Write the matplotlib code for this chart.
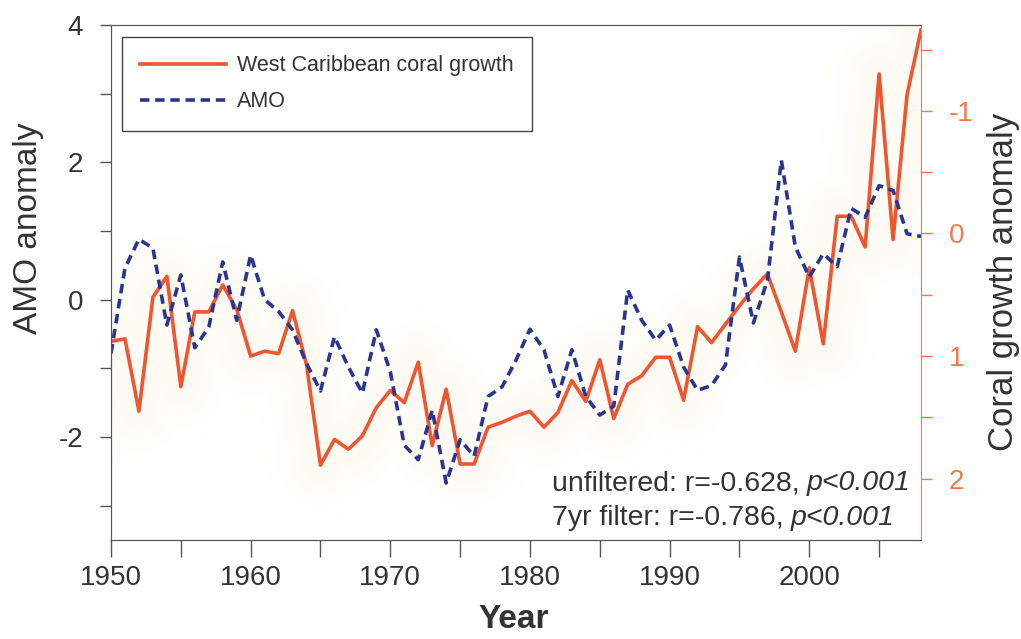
import matplotlib.pyplot as plt

plt.rcParams['font.family'] = ['Liberation Sans', 'DejaVu Sans']

years = list(range(1950, 2009))

# coral growth anomaly (right axis, inverted)
coral_growth = [0.88, 0.86, 1.45, 0.52, 0.35, 1.25, 0.64, 0.64, 0.42, 0.62,
                1.00, 0.96, 0.98, 0.63, 1.07, 1.89, 1.68, 1.76, 1.65, 1.42,
                1.28, 1.38, 1.05, 1.73, 1.27, 1.88, 1.88, 1.58, 1.54, 1.49,
                1.45, 1.58, 1.46, 1.20, 1.37, 1.03, 1.51, 1.23, 1.16, 1.01,
                1.01, 1.36, 0.76, 0.89, 0.74, 0.59, 0.45, 0.33, 0.64, 0.96,
                0.28, 0.90, -0.14, -0.14, 0.11, -1.30, 0.05, -1.13, -1.66]

# Atlantic Multidecadal Oscillation index (left axis)
amo = [-0.78, 0.46, 0.88, 0.75, -0.37, 0.36, -0.70, -0.40, 0.55, -0.30,
       0.65, 0.00, -0.17, -0.44, -0.93, -1.33, -0.54, -0.98, -1.36, -0.44,
       -1.05, -2.12, -2.33, -1.61, -2.67, -2.04, -2.28, -1.41, -1.27, -0.88,
       -0.43, -0.73, -1.41, -0.73, -1.41, -1.68, -1.55, 0.14, -0.30, -0.59,
       -0.37, -0.98, -1.32, -1.25, -0.95, 0.62, -0.34, 0.28, 2.03, 0.77,
       0.33, 0.67, 0.48, 1.33, 1.20, 1.66, 1.59, 0.96, 0.92]

stats_lines = [("unfiltered: r=-0.628,", "p<0.001"),
               ("7yr filter: r=-0.786,", "p<0.001")]

CORAL = '#ef5630'
CORAL_AXIS = '#f47a4c'
NAVY = '#2b3590'
DARK = '#333333'

fig = plt.figure(figsize=(10.21, 6.39), dpi=100)
ax = fig.add_axes([111 / 1021, 1 - 540 / 639, 810 / 1021, 515 / 639])
ax2 = ax.twinx()
# AMO axis drawn above the coral axis
ax.set_zorder(ax2.get_zorder() + 1)
ax.patch.set_visible(False)

# faint yellow glow behind the coral record
for lw in (80, 60, 42, 26):
    ax2.plot(years, coral_growth, color='#fde9b8', lw=lw, alpha=0.035,
             solid_joinstyle='round', solid_capstyle='round', zorder=0)

l1, = ax2.plot(years, coral_growth, color=CORAL, lw=2.6, zorder=2,
               label='West Caribbean coral growth')
l2, = ax.plot(years, amo, color=NAVY, lw=2.6, ls=(0, (2.6, 1.6)),
              label='AMO')

ax.set_xlim(1950, 2008)
ax.set_ylim(-3.5, 4)
ax2.set_ylim(2.5, -1.7)

ax.set_xticks(range(1950, 2009, 5))
ax.set_xticklabels([str(y) if y % 10 == 0 else '' for y in range(1950, 2009, 5)])
ax.set_yticks(range(-3, 5))
ax.set_yticklabels([str(v) if v % 2 == 0 else '' for v in range(-3, 5)])
ax2.set_yticks([-1.5, -1, -0.5, 0, 0.5, 1, 1.5, 2])
ax2.set_yticklabels(['', '-1', '', '0', '', '1', '', '2'])

ax.tick_params(axis='x', direction='out', length=12, width=1, color='#555555',
               labelsize=20, labelcolor=DARK, pad=6)
ax.tick_params(axis='y', direction='out', length=8, width=1, color='#555555',
               labelsize=20, labelcolor=DARK, pad=12)
ax2.tick_params(axis='y', direction='out', length=8, width=1, color=CORAL_AXIS,
                labelsize=20, labelcolor=CORAL_AXIS, pad=12)

for s in ('left', 'bottom', 'top'):
    ax.spines[s].set_color('#555555')
    ax2.spines[s].set_color('#555555')
ax.spines['right'].set_visible(False)
ax2.spines['right'].set_color(CORAL_AXIS)

fig.text(28 / 1021, 1 - 228 / 639, 'AMO anomaly', rotation=90,
         ha='center', va='center', fontsize=24, color=DARK)
fig.text(1003 / 1021, 1 - 282 / 639, 'Coral growth anomaly', rotation=90,
         ha='center', va='center', fontsize=25, color=DARK)
fig.text(514 / 1021, 1 - 620 / 639, 'Year', ha='center', va='center',
         fontsize=24, fontweight='bold', color=DARK)

leg = ax.legend(handles=[l1, l2], loc='upper left', fontsize=15.5,
                handlelength=4.0, handletextpad=0.5, fancybox=False,
                framealpha=1, edgecolor='#444444', borderpad=0.85,
                labelspacing=0.7, borderaxespad=0,
                bbox_to_anchor=(0.0136, 0.977))
leg.get_frame().set_linewidth(1)
for t in leg.get_texts():
    t.set_color(DARK)

# correlation notes, italic significance after the plain part
for (plain, sig), yb in zip(stats_lines, (0.097, 0.029)):
    t = ax.text(0.544, yb, plain, transform=ax.transAxes, fontsize=20.5,
                color=DARK, ha='left', va='baseline')
    ax.annotate(sig, xy=(1, 0), xycoords=t, xytext=(5, 0),
                textcoords='offset points', fontsize=20.5, color=DARK,
                style='italic', ha='left', va='bottom')

fig.savefig('out.png', dpi=100)
